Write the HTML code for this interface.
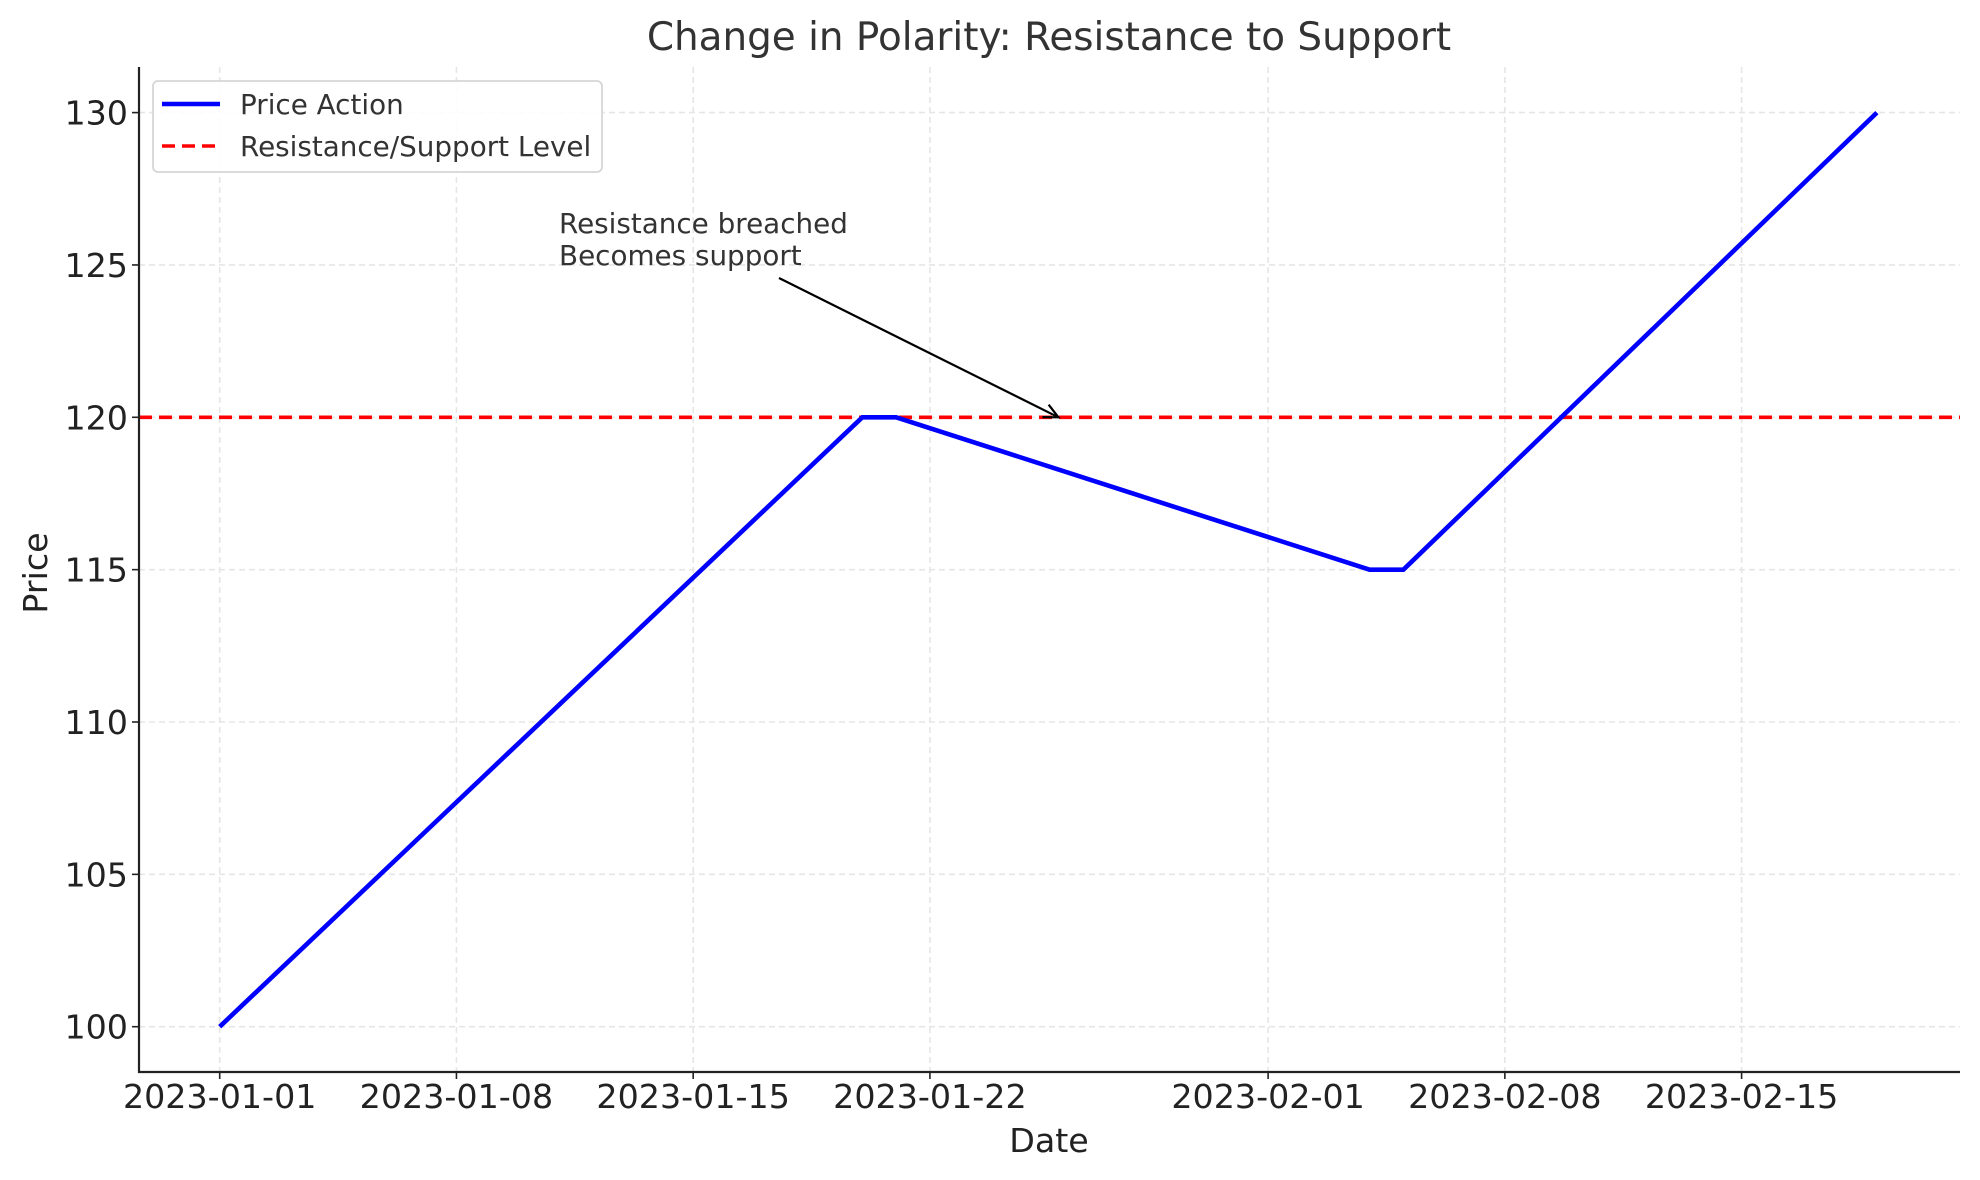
<!DOCTYPE html>
<html><head><meta charset="utf-8"><style>
html,body{margin:0;padding:0;background:#fff;}
svg{display:block;font-family:"DejaVu Sans","Liberation Sans",sans-serif;}
</style></head><body>
<svg id="chart" width="1980" height="1180" viewBox="0 0 1980 1180" xmlns="http://www.w3.org/2000/svg">
<rect width="1980" height="1180" fill="#fff"/>
<g id="grid"></g><g id="series"></g><g id="axes"></g><g id="annot"></g><g id="legend"></g>
</svg>
<script>
const dayOffsets=[0,19,20,34,35,49];
const prices=[100,120,120,115,115,130];
const levelValue=[120];
const xTickDays=[0,7,14,21,31,38,45];
const xTickLabels=["2023-01-01","2023-01-08","2023-01-15","2023-01-22","2023-02-01","2023-02-08","2023-02-15"];
const yTicks=[100,105,110,115,120,125,130];
const annotTarget=[24.8,120];

const L=139,R=1960,T=67,B=1072;
const X0=219.7,PXD=33.82;
const Y100=1026.7,PXU=30.47;
function xs(d){return X0+d*PXD;}
function ys(v){return Y100-(v-100)*PXU;}
const NS="http://www.w3.org/2000/svg";
function mk(tag,attrs,parent,text){const e=document.createElementNS(NS,tag);for(const k in attrs)e.setAttribute(k,attrs[k]);if(text!==undefined)e.textContent=text;parent.appendChild(e);return e;}
const grid=document.getElementById('grid'),series=document.getElementById('series'),axes=document.getElementById('axes'),annot=document.getElementById('annot'),legend=document.getElementById('legend');

xTickDays.forEach((d,i)=>{
  const g=mk('line',{x1:xs(d),x2:xs(d),y1:T,y2:B,stroke:'#e6e6e6','stroke-width':1.6,'stroke-dasharray':'6,4'},grid);
  
  
  const t=mk('line',{x1:xs(d),x2:xs(d),y1:B,y2:B+7,stroke:'#222','stroke-width':1.6},axes);
  
  
  const lb=mk('text',{x:xs(d),y:1108,'text-anchor':'middle','font-size':33.3,fill:'#222'},axes,xTickLabels[i]);
  
  
});
yTicks.forEach(v=>{
  const g=mk('line',{x1:L,x2:R,y1:ys(v),y2:ys(v),stroke:'#e6e6e6','stroke-width':1.6,'stroke-dasharray':'6,4'},grid);
  
  
  const t=mk('line',{x1:L-7,x2:L,y1:ys(v),y2:ys(v),stroke:'#222','stroke-width':1.6},axes);
  
  
  const lb=mk('text',{x:128,y:ys(v)+12,'text-anchor':'end','font-size':33.3,fill:'#222'},axes,String(v));
  
  
});

const lvl=mk('line',{x1:L,x2:R,y1:ys(levelValue[0]),y2:ys(levelValue[0]),stroke:'#ff0000','stroke-width':3.6,'stroke-dasharray':'13,7'},series);


const pts=dayOffsets.map((d,i)=>xs(d).toFixed(1)+','+ys(prices[i]).toFixed(1)).join(' ');
const pl=mk('polyline',{points:pts,fill:'none',stroke:'#0000ff','stroke-width':4.6,'stroke-linejoin':'miter'},series);



const sp1=mk('line',{x1:L,x2:L,y1:T,y2:B+1,stroke:'#222','stroke-width':2.2},axes);


const sp2=mk('line',{x1:L-1,x2:R,y1:B,y2:B,stroke:'#222','stroke-width':2.2},axes);



const title=mk('text',{x:1049,y:50,'text-anchor':'middle','font-size':38.9,fill:'#333'},axes,'Change in Polarity: Resistance to Support');


const xl=mk('text',{x:1049,y:1152,'text-anchor':'middle','font-size':33.3,fill:'#222'},axes,'Date');


const yl=mk('text',{x:0,y:0,'text-anchor':'middle','font-size':33.3,fill:'#222',transform:'translate(47,573) rotate(-90)'},axes,'Price');



// annotation
const at1=mk('text',{x:559,y:233,'font-size':27.8,fill:'#333'},annot,'Resistance breached');


const at2=mk('text',{x:559,y:265,'font-size':27.8,fill:'#333'},annot,'Becomes support');


const tx=xs(annotTarget[0]),ty=ys(annotTarget[1]);
const sx=779,sy=278;
const ar=mk('line',{x1:sx,y1:sy,x2:tx,y2:ty,stroke:'#000','stroke-width':2.2},annot);


const ang=Math.atan2(ty-sy,tx-sx),hl=16;
const hp=mk('polyline',{points:`${tx-hl*Math.cos(ang-0.45)},${ty-hl*Math.sin(ang-0.45)} ${tx},${ty} ${tx-hl*Math.cos(ang+0.45)},${ty-hl*Math.sin(ang+0.45)}`,fill:'none',stroke:'#000','stroke-width':2.2},annot);



// legend
const lb=mk('rect',{x:153,y:81,width:449,height:91,rx:5,fill:'#fff','fill-opacity':0.85,stroke:'#d6d6d6','stroke-width':1.8},legend);


const l1=mk('line',{x1:162,x2:220,y1:104,y2:104,stroke:'#0000ff','stroke-width':4.6},legend);


const t1=mk('text',{x:240,y:114,'font-size':27.8,fill:'#333'},legend,'Price Action');


const l2=mk('line',{x1:162,x2:220,y1:146,y2:146,stroke:'#ff0000','stroke-width':3.6,'stroke-dasharray':'13,7'},legend);


const t2=mk('text',{x:240,y:156,'font-size':27.8,fill:'#333'},legend,'Resistance/Support Level');


</script>
</body></html>
